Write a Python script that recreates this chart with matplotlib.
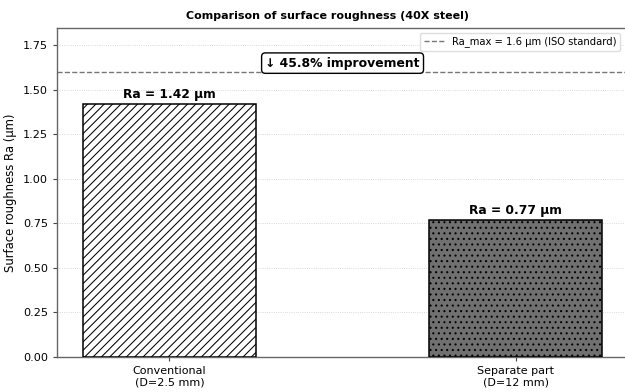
import matplotlib
matplotlib.use("Agg")
import matplotlib.pyplot as plt

categories = ["Conventional\n(D=2.5 mm)", "Separate part\n(D=12 mm)"]
ra_values = [1.42, 0.77]
ra_max = 1.6
improvement_pct = 45.8

plt.rcParams["hatch.linewidth"] = 0.75
fig = plt.figure(figsize=(6.25, 3.92), dpi=100)
ax = fig.add_axes([57/625, 35/392, 1 - 57/625, (357 - 27.5)/392])

x = list(range(len(categories)))
bars = ax.bar(x, ra_values, width=0.5, edgecolor="black", linewidth=1.1,
              zorder=3)
bars[0].set_facecolor("white")
bars[0].set_hatch("////")
bars[1].set_facecolor("#707070")
bars[1].set_hatch("...")

ax.axhline(ra_max, color="#777777", linestyle="--", linewidth=1.0,
           label=f"Ra_max = {ra_max} μm (ISO standard)", zorder=2)

for xi, v in zip(x, ra_values):
    ax.text(xi, v + 0.015, f"Ra = {v:.2f} μm", ha="center", va="bottom",
            fontsize=8.8, fontweight="bold")

ax.text(0.5, 1.65, f"↓ {improvement_pct}% improvement", ha="center", va="center",
        fontsize=8.9, fontweight="bold",
        bbox=dict(boxstyle="round,pad=0.3", facecolor="white", edgecolor="black",
                  linewidth=1.0))

ax.set_xticks(x)
ax.set_xticklabels(categories, fontsize=8.0)
ax.set_xlim(-0.325, 1.316)
ax.set_ylim(0, 1.85)
ax.set_yticks([0, 0.25, 0.5, 0.75, 1.0, 1.25, 1.5, 1.75])
ax.set_yticklabels([f"{t:.2f}" for t in ax.get_yticks()], fontsize=8.1)
ax.set_ylabel("Surface roughness Ra (μm)", fontsize=8.4)
ax.set_title("Comparison of surface roughness (40X steel)", fontsize=8.0,
             fontweight="bold", pad=6, x=(327 - 57) / (625 - 57))
ax.yaxis.grid(True, linestyle=":", color="#cccccc", linewidth=0.6, zorder=0)
ax.set_axisbelow(True)
for s in ["left", "bottom", "top"]:
    ax.spines[s].set_color("#666666")
    ax.spines[s].set_linewidth(1.0)
ax.spines["right"].set_visible(False)
ax.tick_params(colors="#444444", labelcolor="black", length=3, width=0.8)
ax.legend(loc="upper right", fontsize=7.2, frameon=True, framealpha=1,
          edgecolor="#dddddd")

fig.savefig("out.png", dpi=100)
